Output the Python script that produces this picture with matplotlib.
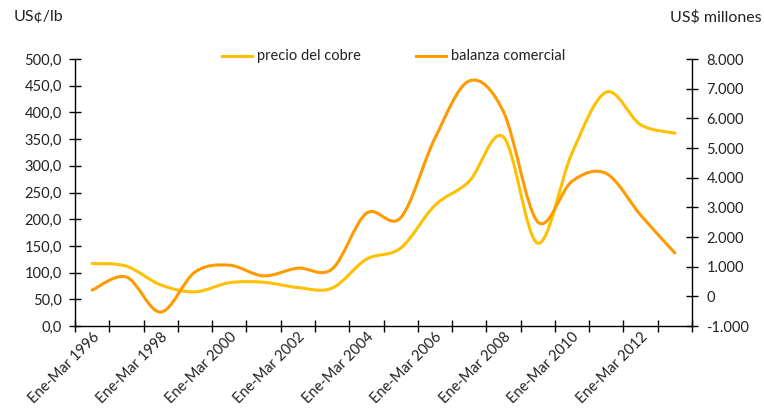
import matplotlib
matplotlib.use("Agg")
import matplotlib.pyplot as plt
from matplotlib.path import Path
from matplotlib.patches import PathPatch
from matplotlib.ticker import FuncFormatter, MultipleLocator, FixedLocator
import numpy as np

plt.rcParams['font.family'] = ['Lato', 'DejaVu Sans']

years = list(range(1996, 2014))
categories = [f"Ene-Mar {y}" for y in years]
precio_cobre = [117, 112, 77, 64, 81, 82, 72, 71, 125, 146, 226, 271, 354, 155, 324, 438, 377, 361]
balanza_comercial = [210, 650, -530, 820, 1050, 690, 950, 920, 2800, 2650, 5330, 7260, 6220, 2510, 3880, 4140, 2740, 1460]
label_years = [1996, 1998, 2000, 2002, 2004, 2006, 2008, 2010, 2012]

C_YELLOW = "#FFC000"
C_ORANGE = "#FF9A00"

def smooth_path(xs, ys):
    pts = np.column_stack([xs, ys]).astype(float)
    n = len(pts)
    verts = [pts[0]]
    codes = [Path.MOVETO]
    for i in range(n - 1):
        p0 = pts[i - 1] if i > 0 else pts[i]
        p1 = pts[i]
        p2 = pts[i + 1]
        p3 = pts[i + 2] if i + 2 < n else pts[i + 1]
        c1 = p1 + (p2 - p0) / 6.0
        c2 = p2 - (p3 - p1) / 6.0
        verts += [c1, c2, p2]
        codes += [Path.CURVE4] * 3
    return Path(verts, codes)

fig = plt.figure(figsize=(7.64, 4.17), dpi=100)
ax = fig.add_axes([75/764, 1 - 326/417, (692-75)/764, (326-59)/417])
ax2 = ax.twinx()

x = np.arange(len(years))
ax.add_patch(PathPatch(smooth_path(x, precio_cobre), fill=False, edgecolor=C_YELLOW, lw=2.2, capstyle='round'))
ax2.add_patch(PathPatch(smooth_path(x, balanza_comercial), fill=False, edgecolor=C_ORANGE, lw=2.2, capstyle='round'))

ax.set_xlim(-0.5, len(years) - 0.5)
ax.set_ylim(0, 500)
ax2.set_ylim(-1000, 8000)

ax.yaxis.set_major_locator(MultipleLocator(50))
ax.yaxis.set_major_formatter(FuncFormatter(lambda v, p: f"{v:.1f}".replace('.', ',')))
ax2.yaxis.set_major_locator(MultipleLocator(1000))
ax2.yaxis.set_major_formatter(FuncFormatter(lambda v, p: f"{int(v):,}".replace(',', '.')))

ax.xaxis.set_major_locator(FixedLocator(np.arange(-0.5, len(years), 1.0)))
ax.xaxis.set_major_formatter(FuncFormatter(lambda v, p: ""))
ax.xaxis.set_minor_locator(FixedLocator([years.index(y) for y in label_years]))
ax.xaxis.set_minor_formatter(FuncFormatter(lambda v, p: categories[int(round(v))]))
ax.tick_params(axis='x', which='major', direction='inout', length=9, width=1, color='black')
ax.tick_params(axis='x', which='minor', length=0, pad=3, labelsize=10.5, labelcolor='#222222')
for lbl in ax.xaxis.get_minorticklabels():
    lbl.set_rotation(45)
    lbl.set_ha('right')
    lbl.set_va('top')
    lbl.set_rotation_mode('anchor')

ax.tick_params(axis='y', direction='inout', length=9, width=1, pad=5, labelsize=10.5, labelcolor='#222222')
ax2.tick_params(axis='y', direction='inout', length=9, width=1, pad=6, labelsize=10.5, labelcolor='#222222')

for a in (ax, ax2):
    a.spines['top'].set_visible(False)
    for s in ('left', 'right', 'bottom'):
        a.spines[s].set_color('black')
        a.spines[s].set_linewidth(1)
ax.spines['right'].set_visible(False)
ax2.spines['left'].set_visible(False)
ax2.spines['bottom'].set_visible(False)

fig.text(14/764, 1 - 17/417, "US¢/lb", fontsize=11.5, va='center', ha='left', color='#222222')
fig.text(762/764, 1 - 17/417, "US$ millones", fontsize=11.5, va='center', ha='right', color='#222222')

# legend
ly = 1 - 56/417
fig.add_artist(plt.Line2D([222/764, 252/764], [ly, ly], color=C_YELLOW, lw=2.2))
fig.text(257/764, ly, "precio del cobre", fontsize=10.5, va='center', ha='left', color='#222222')
fig.add_artist(plt.Line2D([416/764, 446/764], [ly, ly], color=C_ORANGE, lw=2.2))
fig.text(451/764, ly, "balanza comercial", fontsize=10.5, va='center', ha='left', color='#222222')

fig.savefig("out.png", dpi=100)
